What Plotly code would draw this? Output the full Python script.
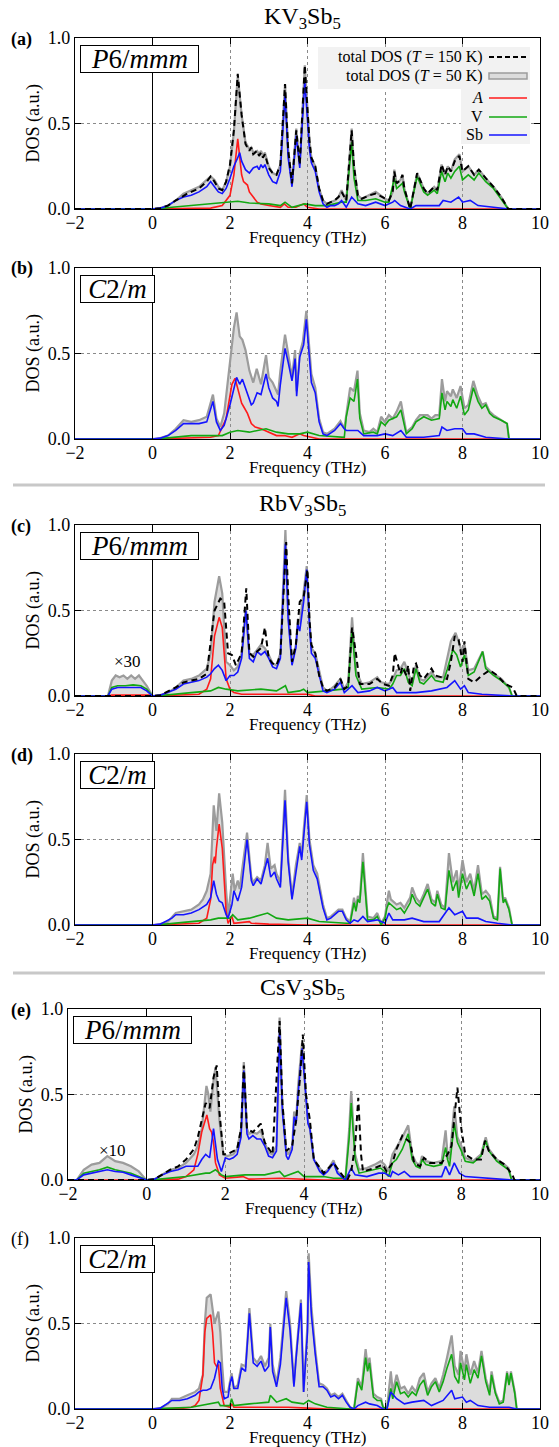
import plotly.graph_objects as go

# ---------------- data (frequency THz, DOS a.u.) ----------------
# Panel (a) KV3Sb5, P6/mmm
a_tot150 = [(-2,0),(0,0),(0.2,0.005),(0.4,0.02),(0.6,0.05),(0.8,0.08),(0.9,0.09),(1.0,0.10),(1.2,0.12),(1.4,0.16),(1.5,0.19),(1.6,0.16),(1.7,0.12),(1.8,0.11),(1.9,0.16),(2.0,0.26),(2.1,0.46),(2.2,0.79),(2.3,0.55),(2.4,0.38),(2.5,0.34),(2.55,0.36),(2.6,0.32),(2.7,0.34),(2.75,0.31),(2.8,0.33),(2.85,0.30),(2.9,0.32),(3.0,0.24),(3.1,0.21),(3.2,0.20),(3.3,0.26),(3.42,0.73),(3.5,0.35),(3.6,0.15),(3.71,0.46),(3.8,0.26),(3.93,0.84),(4.05,0.40),(4.1,0.30),(4.2,0.25),(4.3,0.12),(4.4,0.05),(4.5,0.03),(4.6,0.04),(4.7,0.05),(4.8,0.07),(4.88,0.10),(5.0,0.05),(5.14,0.46),(5.2,0.25),(5.3,0.08),(5.4,0.06),(5.6,0.08),(5.76,0.09),(6.0,0.06),(6.1,0.05),(6.2,0.10),(6.24,0.22),(6.3,0.15),(6.4,0.17),(6.45,0.20),(6.5,0.12),(6.65,0.0),(6.83,0.21),(7.0,0.12),(7.1,0.09),(7.27,0.13),(7.35,0.11),(7.46,0.26),(7.55,0.20),(7.62,0.25),(7.7,0.22),(7.8,0.28),(7.92,0.31),(8.0,0.22),(8.15,0.25),(8.3,0.20),(8.42,0.23),(8.6,0.18),(8.8,0.13),(9.0,0.07),(9.18,0.0),(10,0)]
a_tot50 = [(-2,0),(0,0),(0.2,0.005),(0.4,0.02),(0.6,0.05),(0.8,0.09),(0.9,0.10),(1.0,0.11),(1.2,0.13),(1.4,0.17),(1.5,0.19),(1.6,0.17),(1.7,0.13),(1.8,0.11),(1.9,0.16),(2.0,0.25),(2.1,0.45),(2.2,0.78),(2.3,0.55),(2.4,0.39),(2.5,0.35),(2.55,0.36),(2.6,0.33),(2.7,0.34),(2.75,0.32),(2.8,0.34),(2.85,0.31),(2.9,0.33),(3.0,0.25),(3.1,0.21),(3.2,0.20),(3.3,0.26),(3.42,0.73),(3.5,0.35),(3.6,0.15),(3.71,0.47),(3.8,0.26),(3.93,0.84),(4.05,0.40),(4.1,0.30),(4.2,0.25),(4.3,0.12),(4.4,0.05),(4.5,0.03),(4.6,0.04),(4.7,0.05),(4.8,0.07),(4.88,0.11),(5.0,0.05),(5.14,0.47),(5.2,0.25),(5.3,0.08),(5.4,0.06),(5.6,0.08),(5.76,0.10),(6.0,0.06),(6.1,0.05),(6.2,0.10),(6.24,0.23),(6.3,0.15),(6.4,0.17),(6.45,0.20),(6.5,0.12),(6.65,0.0),(6.83,0.21),(7.0,0.12),(7.1,0.09),(7.27,0.13),(7.35,0.11),(7.46,0.26),(7.55,0.20),(7.62,0.25),(7.7,0.22),(7.8,0.29),(7.92,0.32),(8.0,0.22),(8.15,0.25),(8.3,0.20),(8.42,0.23),(8.6,0.18),(8.8,0.13),(9.0,0.07),(9.18,0.0),(10,0)]
a_A = [(-2,0),(0,0),(1.5,0.005),(1.8,0.02),(2.0,0.08),(2.1,0.20),(2.2,0.41),(2.3,0.20),(2.35,0.16),(2.45,0.14),(2.5,0.10),(2.6,0.07),(2.7,0.04),(2.8,0.03),(3.0,0.02),(3.3,0.01),(3.4,0.03),(3.5,0.01),(3.7,0.01),(3.9,0.03),(4.0,0.01),(4.3,0.0),(10,0)]
a_V = [(-2,0),(0,0),(0.2,0.002),(0.5,0.01),(1.0,0.02),(1.5,0.03),(2.0,0.04),(2.2,0.045),(2.5,0.035),(3.0,0.03),(3.3,0.02),(3.42,0.04),(3.6,0.01),(3.93,0.03),(4.2,0.02),(4.5,0.02),(4.88,0.04),(5.0,0.04),(5.14,0.39),(5.2,0.18),(5.3,0.05),(5.5,0.05),(5.76,0.06),(6.0,0.04),(6.1,0.04),(6.24,0.18),(6.3,0.12),(6.45,0.15),(6.5,0.10),(6.65,0.0),(6.83,0.19),(7.0,0.10),(7.1,0.08),(7.27,0.11),(7.35,0.09),(7.46,0.22),(7.55,0.16),(7.62,0.21),(7.7,0.18),(7.8,0.22),(7.92,0.25),(8.0,0.17),(8.15,0.20),(8.3,0.17),(8.42,0.21),(8.6,0.16),(8.8,0.12),(9.0,0.06),(9.18,0.0),(10,0)]
a_Sb = [(-2,0),(0,0),(0.2,0.005),(0.4,0.02),(0.6,0.05),(0.8,0.07),(1.0,0.08),(1.2,0.10),(1.4,0.13),(1.5,0.16),(1.6,0.13),(1.7,0.10),(1.8,0.09),(1.9,0.12),(2.0,0.18),(2.1,0.25),(2.2,0.30),(2.25,0.33),(2.3,0.28),(2.4,0.23),(2.5,0.21),(2.6,0.24),(2.7,0.25),(2.75,0.23),(2.8,0.26),(2.85,0.24),(2.9,0.26),(3.0,0.20),(3.1,0.16),(3.2,0.15),(3.3,0.22),(3.42,0.67),(3.5,0.30),(3.6,0.13),(3.71,0.43),(3.8,0.24),(3.93,0.75),(4.05,0.35),(4.1,0.27),(4.2,0.22),(4.3,0.10),(4.4,0.03),(4.5,0.01),(4.6,0.02),(4.7,0.02),(4.8,0.03),(4.88,0.05),(5.0,0.01),(5.14,0.07),(5.3,0.03),(5.5,0.02),(5.76,0.04),(6.0,0.02),(6.2,0.04),(6.25,0.05),(6.4,0.02),(6.65,0.0),(6.8,0.02),(7.0,0.02),(7.4,0.02),(7.5,0.05),(7.7,0.04),(7.9,0.07),(8.0,0.04),(8.2,0.05),(8.4,0.02),(8.8,0.01),(9.2,0.0),(10,0)]

# Panel (b) KV3Sb5, C2/m
b_tot50 = [(-2,0),(0,0),(0.2,0.005),(0.4,0.02),(0.6,0.06),(0.8,0.11),(1.0,0.10),(1.2,0.11),(1.4,0.13),(1.56,0.26),(1.65,0.12),(1.75,0.07),(1.85,0.15),(2.0,0.45),(2.1,0.65),(2.17,0.74),(2.25,0.60),(2.32,0.58),(2.4,0.52),(2.5,0.40),(2.6,0.33),(2.69,0.41),(2.8,0.32),(2.93,0.49),(3.0,0.36),(3.1,0.33),(3.24,0.26),(3.3,0.40),(3.42,0.61),(3.5,0.50),(3.6,0.36),(3.68,0.52),(3.72,0.28),(3.8,0.50),(3.88,0.57),(3.97,0.75),(4.05,0.50),(4.1,0.38),(4.2,0.30),(4.3,0.12),(4.4,0.04),(4.5,0.03),(4.7,0.06),(4.85,0.105),(4.95,0.06),(5.0,0.15),(5.1,0.30),(5.2,0.28),(5.29,0.40),(5.35,0.15),(5.45,0.05),(5.6,0.04),(5.7,0.06),(5.8,0.04),(5.9,0.13),(6.0,0.10),(6.1,0.14),(6.2,0.12),(6.3,0.16),(6.41,0.22),(6.5,0.10),(6.55,0.04),(6.7,0.07),(6.8,0.11),(6.9,0.14),(7.0,0.14),(7.1,0.14),(7.2,0.12),(7.3,0.14),(7.4,0.14),(7.47,0.35),(7.55,0.22),(7.6,0.28),(7.7,0.25),(7.75,0.29),(7.85,0.24),(7.95,0.31),(8.05,0.18),(8.15,0.20),(8.28,0.34),(8.4,0.25),(8.5,0.20),(8.6,0.21),(8.7,0.16),(8.8,0.14),(9.0,0.11),(9.15,0.09),(9.2,0.0),(10,0)]
b_A = [(-2,0),(0,0),(1.5,0.01),(1.7,0.02),(1.9,0.12),(2.05,0.32),(2.13,0.355),(2.2,0.30),(2.3,0.21),(2.35,0.19),(2.45,0.15),(2.55,0.09),(2.65,0.07),(2.8,0.06),(2.9,0.05),(3.0,0.04),(3.2,0.02),(3.4,0.02),(3.6,0.01),(3.8,0.03),(3.9,0.02),(4.1,0.01),(4.3,0.0),(10,0)]
b_V = [(-2,0),(0,0),(0.2,0.002),(1.0,0.02),(1.5,0.02),(1.8,0.02),(2.0,0.04),(2.2,0.05),(2.5,0.04),(2.93,0.06),(3.2,0.04),(3.5,0.03),(3.8,0.03),(4.0,0.04),(4.3,0.02),(4.8,0.01),(4.95,0.01),(5.0,0.13),(5.1,0.24),(5.2,0.22),(5.29,0.35),(5.35,0.12),(5.45,0.03),(5.7,0.04),(5.8,0.03),(5.9,0.10),(6.0,0.08),(6.1,0.11),(6.3,0.13),(6.41,0.17),(6.5,0.08),(6.55,0.03),(6.7,0.06),(6.8,0.10),(7.0,0.13),(7.2,0.11),(7.4,0.12),(7.47,0.27),(7.55,0.17),(7.6,0.22),(7.7,0.19),(7.75,0.23),(7.85,0.18),(7.95,0.25),(8.05,0.14),(8.15,0.17),(8.28,0.30),(8.4,0.22),(8.5,0.18),(8.6,0.20),(8.7,0.15),(8.8,0.13),(9.0,0.11),(9.15,0.09),(9.2,0.0),(10,0)]
b_Sb = [(-2,0),(0,0),(0.2,0.005),(0.4,0.02),(0.6,0.05),(0.8,0.09),(1.0,0.09),(1.2,0.09),(1.4,0.10),(1.56,0.22),(1.65,0.10),(1.75,0.05),(1.85,0.08),(2.0,0.20),(2.17,0.36),(2.25,0.32),(2.32,0.35),(2.45,0.26),(2.55,0.20),(2.6,0.21),(2.7,0.27),(2.8,0.26),(2.93,0.38),(3.0,0.30),(3.1,0.24),(3.2,0.22),(3.24,0.19),(3.3,0.32),(3.42,0.53),(3.5,0.45),(3.6,0.34),(3.68,0.47),(3.72,0.25),(3.8,0.48),(3.9,0.55),(3.97,0.70),(4.05,0.45),(4.1,0.33),(4.2,0.27),(4.3,0.10),(4.4,0.03),(4.5,0.02),(4.7,0.05),(4.85,0.09),(4.95,0.06),(5.0,0.05),(5.3,0.05),(5.45,0.02),(5.8,0.02),(6.0,0.03),(6.2,0.02),(6.41,0.05),(6.55,0.01),(7.0,0.01),(7.4,0.02),(7.47,0.07),(7.6,0.05),(7.8,0.06),(8.0,0.06),(8.1,0.03),(8.3,0.03),(8.6,0.01),(9.2,0.0),(10,0)]

# Panel (c) RbV3Sb5, P6/mmm (negative part scaled x30)
c_tot150 = [(-2,0),(0,0),(0.2,0.005),(0.6,0.05),(0.8,0.08),(1.0,0.09),(1.2,0.10),(1.4,0.13),(1.5,0.30),(1.6,0.50),(1.75,0.57),(1.85,0.55),(1.95,0.25),(2.05,0.24),(2.15,0.18),(2.3,0.25),(2.42,0.63),(2.5,0.25),(2.6,0.23),(2.7,0.26),(2.8,0.28),(2.9,0.40),(3.0,0.22),(3.1,0.19),(3.2,0.18),(3.3,0.24),(3.45,0.90),(3.5,0.60),(3.6,0.20),(3.7,0.30),(3.8,0.55),(3.9,0.58),(4.0,0.74),(4.05,0.45),(4.1,0.30),(4.2,0.25),(4.3,0.12),(4.4,0.05),(4.5,0.03),(4.7,0.05),(4.85,0.10),(4.95,0.04),(5.05,0.06),(5.15,0.40),(5.25,0.25),(5.35,0.07),(5.6,0.07),(5.8,0.10),(5.95,0.07),(6.1,0.06),(6.2,0.12),(6.25,0.25),(6.4,0.13),(6.45,0.17),(6.55,0.12),(6.6,0.18),(6.65,0.03),(6.75,0.18),(6.8,0.19),(6.9,0.12),(7.0,0.10),(7.2,0.16),(7.3,0.12),(7.6,0.10),(7.7,0.20),(7.8,0.35),(7.9,0.33),(8.0,0.20),(8.05,0.32),(8.15,0.10),(8.3,0.08),(8.5,0.12),(8.7,0.15),(8.9,0.12),(9.1,0.07),(9.3,0.05),(9.4,0.0),(10,0)]
c_tot50 = [(-2,0),(-1.15,0),(-1.05,0.09),(-0.95,0.12),(-0.85,0.11),(-0.75,0.12),(-0.65,0.10),(-0.55,0.12),(-0.45,0.10),(-0.35,0.12),(-0.25,0.09),(-0.15,0.06),(-0.05,0.02),(0,0),(0.2,0.005),(0.4,0.02),(0.6,0.05),(0.8,0.09),(1.0,0.10),(1.2,0.12),(1.4,0.16),(1.5,0.25),(1.6,0.55),(1.72,0.70),(1.8,0.60),(1.9,0.20),(2.0,0.18),(2.1,0.15),(2.2,0.17),(2.3,0.25),(2.41,0.52),(2.5,0.25),(2.6,0.24),(2.7,0.27),(2.8,0.30),(2.9,0.28),(3.0,0.24),(3.1,0.19),(3.2,0.18),(3.3,0.25),(3.43,0.97),(3.5,0.50),(3.6,0.20),(3.7,0.30),(3.75,0.45),(3.8,0.42),(3.9,0.60),(3.98,0.76),(4.05,0.45),(4.1,0.28),(4.2,0.25),(4.3,0.15),(4.4,0.05),(4.5,0.03),(4.6,0.04),(4.7,0.06),(4.85,0.10),(4.95,0.04),(5.05,0.08),(5.15,0.46),(5.25,0.15),(5.4,0.07),(5.6,0.08),(5.8,0.11),(5.9,0.08),(6.1,0.07),(6.2,0.10),(6.3,0.15),(6.4,0.16),(6.5,0.20),(6.6,0.13),(6.7,0.08),(6.8,0.18),(6.9,0.10),(7.0,0.09),(7.2,0.14),(7.3,0.11),(7.5,0.11),(7.6,0.22),(7.7,0.32),(7.82,0.37),(7.9,0.31),(8.0,0.25),(8.05,0.30),(8.15,0.15),(8.3,0.16),(8.52,0.26),(8.6,0.17),(8.8,0.13),(9.0,0.10),(9.2,0.05),(9.28,0.0),(10,0)]
c_A = [(-2,0),(-1.15,0),(-1.05,0.005),(-0.1,0.005),(0,0),(1.2,0.01),(1.4,0.04),(1.5,0.10),(1.6,0.35),(1.72,0.46),(1.8,0.40),(1.85,0.25),(1.9,0.10),(2.0,0.04),(2.1,0.02),(2.3,0.01),(3.43,0.01),(4.0,0.01),(4.2,0.0),(10,0)]
c_V = [(-2,0),(-1.15,0),(-1.05,0.05),(-0.9,0.06),(-0.7,0.06),(-0.5,0.065),(-0.3,0.06),(-0.15,0.04),(0,0),(0.2,0.002),(1.0,0.02),(1.5,0.03),(1.7,0.05),(1.9,0.04),(2.2,0.03),(2.8,0.04),(3.2,0.03),(3.43,0.06),(3.5,0.02),(3.8,0.03),(3.9,0.04),(4.0,0.02),(4.5,0.03),(4.9,0.04),(5.05,0.05),(5.15,0.38),(5.25,0.12),(5.4,0.04),(5.8,0.05),(6.1,0.04),(6.2,0.07),(6.3,0.12),(6.4,0.12),(6.5,0.16),(6.6,0.08),(6.7,0.06),(6.8,0.16),(6.9,0.08),(7.0,0.07),(7.2,0.12),(7.3,0.09),(7.5,0.08),(7.6,0.15),(7.75,0.27),(7.85,0.24),(7.95,0.17),(8.05,0.24),(8.15,0.12),(8.3,0.14),(8.52,0.26),(8.6,0.16),(8.8,0.12),(9.0,0.09),(9.2,0.05),(9.28,0.0),(10,0)]
c_Sb = [(-2,0),(-1.15,0),(-1.05,0.04),(-0.9,0.05),(-0.7,0.05),(-0.5,0.05),(-0.3,0.05),(-0.15,0.03),(0,0),(0.2,0.005),(0.6,0.04),(0.8,0.07),(1.0,0.08),(1.2,0.09),(1.4,0.11),(1.5,0.13),(1.6,0.16),(1.7,0.18),(1.8,0.15),(1.9,0.09),(2.0,0.12),(2.1,0.12),(2.2,0.14),(2.3,0.22),(2.41,0.50),(2.5,0.22),(2.6,0.20),(2.7,0.26),(2.8,0.24),(2.9,0.26),(3.0,0.22),(3.1,0.17),(3.2,0.16),(3.3,0.22),(3.43,0.89),(3.5,0.45),(3.6,0.18),(3.7,0.28),(3.75,0.42),(3.8,0.38),(3.9,0.55),(3.98,0.74),(4.05,0.42),(4.1,0.25),(4.2,0.22),(4.3,0.12),(4.4,0.03),(4.5,0.02),(4.7,0.04),(4.85,0.08),(4.95,0.02),(5.15,0.06),(5.3,0.02),(5.6,0.03),(5.8,0.05),(6.0,0.03),(6.2,0.05),(6.3,0.02),(6.8,0.02),(7.2,0.03),(7.6,0.05),(7.8,0.09),(7.95,0.04),(8.05,0.06),(8.15,0.02),(8.5,0.01),(9.0,0.005),(9.3,0.0),(10,0)]

# Panel (d) RbV3Sb5, C2/m
d_tot50 = [(-2,0),(0,0),(0.2,0.005),(0.4,0.02),(0.6,0.07),(0.8,0.08),(1.0,0.09),(1.2,0.12),(1.3,0.15),(1.4,0.20),(1.5,0.30),(1.58,0.70),(1.65,0.55),(1.72,0.77),(1.8,0.60),(1.9,0.20),(1.95,0.05),(2.07,0.30),(2.12,0.20),(2.2,0.26),(2.25,0.21),(2.3,0.30),(2.38,0.45),(2.44,0.54),(2.55,0.28),(2.6,0.25),(2.7,0.28),(2.8,0.26),(2.9,0.35),(2.97,0.48),(3.05,0.33),(3.15,0.35),(3.2,0.30),(3.3,0.25),(3.42,0.79),(3.5,0.40),(3.6,0.17),(3.7,0.35),(3.8,0.48),(3.85,0.40),(3.9,0.55),(3.98,0.76),(4.05,0.50),(4.15,0.35),(4.25,0.30),(4.4,0.12),(4.5,0.04),(4.6,0.05),(4.8,0.09),(4.9,0.09),(5.0,0.04),(5.1,0.02),(5.2,0.16),(5.25,0.10),(5.3,0.17),(5.35,0.15),(5.43,0.42),(5.55,0.05),(5.7,0.04),(5.8,0.07),(5.9,0.01),(6.0,0.05),(6.05,0.13),(6.1,0.20),(6.15,0.15),(6.3,0.12),(6.4,0.13),(6.5,0.10),(6.65,0.16),(6.7,0.22),(6.8,0.16),(6.9,0.13),(7.0,0.18),(7.1,0.24),(7.2,0.15),(7.3,0.13),(7.35,0.20),(7.45,0.12),(7.55,0.10),(7.65,0.42),(7.75,0.25),(7.85,0.32),(7.9,0.20),(8.0,0.38),(8.1,0.25),(8.2,0.30),(8.3,0.20),(8.4,0.35),(8.5,0.18),(8.6,0.20),(8.7,0.17),(8.8,0.05),(8.9,0.04),(8.97,0.34),(9.05,0.14),(9.1,0.16),(9.2,0.10),(9.28,0.0),(10,0)]
d_A = [(-2,0),(0,0),(1.2,0.01),(1.4,0.04),(1.5,0.15),(1.55,0.35),(1.6,0.40),(1.62,0.36),(1.65,0.45),(1.72,0.59),(1.8,0.45),(1.85,0.25),(1.9,0.08),(1.95,0.01),(2.05,0.05),(2.1,0.01),(2.5,0.02),(2.55,0.01),(3.0,0.005),(4.0,0.0),(10,0)]
d_V = [(-2,0),(0,0),(0.2,0.002),(1.0,0.02),(1.5,0.03),(1.7,0.04),(2.0,0.04),(2.07,0.06),(2.2,0.03),(2.5,0.04),(2.97,0.07),(3.2,0.04),(3.5,0.03),(4.0,0.04),(4.3,0.02),(5.0,0.01),(5.1,0.01),(5.2,0.13),(5.25,0.08),(5.3,0.15),(5.35,0.13),(5.43,0.37),(5.55,0.03),(5.7,0.03),(5.8,0.05),(5.9,0.0),(6.0,0.04),(6.05,0.10),(6.1,0.13),(6.15,0.12),(6.3,0.09),(6.4,0.10),(6.5,0.07),(6.65,0.13),(6.7,0.18),(6.8,0.13),(6.9,0.11),(7.0,0.16),(7.1,0.21),(7.2,0.13),(7.3,0.11),(7.35,0.18),(7.45,0.10),(7.55,0.09),(7.65,0.32),(7.75,0.20),(7.85,0.26),(7.9,0.16),(8.0,0.30),(8.1,0.21),(8.2,0.26),(8.3,0.17),(8.4,0.30),(8.5,0.15),(8.6,0.17),(8.7,0.14),(8.8,0.04),(8.9,0.03),(8.97,0.33),(9.05,0.13),(9.1,0.15),(9.2,0.09),(9.28,0.0),(10,0)]
d_Sb = [(-2,0),(0,0),(0.2,0.005),(0.5,0.04),(0.6,0.06),(0.8,0.06),(1.0,0.07),(1.2,0.09),(1.4,0.12),(1.5,0.16),(1.58,0.26),(1.65,0.18),(1.72,0.14),(1.8,0.13),(1.9,0.06),(1.95,0.04),(2.05,0.12),(2.1,0.20),(2.2,0.14),(2.3,0.22),(2.44,0.50),(2.55,0.26),(2.6,0.23),(2.7,0.27),(2.8,0.24),(2.97,0.39),(3.05,0.28),(3.15,0.31),(3.2,0.27),(3.3,0.22),(3.42,0.73),(3.5,0.37),(3.6,0.15),(3.7,0.32),(3.8,0.46),(3.85,0.38),(3.9,0.52),(3.98,0.72),(4.05,0.47),(4.15,0.32),(4.25,0.27),(4.4,0.10),(4.5,0.03),(4.6,0.04),(4.8,0.08),(4.9,0.08),(5.0,0.03),(5.1,0.01),(5.2,0.03),(5.3,0.02),(5.43,0.05),(5.55,0.02),(5.8,0.03),(6.0,0.01),(6.1,0.07),(6.2,0.03),(6.5,0.03),(6.7,0.04),(7.0,0.02),(7.4,0.02),(7.65,0.10),(7.8,0.06),(8.0,0.08),(8.1,0.04),(8.4,0.04),(8.6,0.02),(8.9,0.01),(9.28,0.0),(10,0)]

# Panel (e) CsV3Sb5, P6/mmm (negative part scaled x10)
e_tot150 = [(-2,0),(0,0),(0.2,0.005),(0.4,0.03),(0.6,0.06),(0.8,0.08),(1.0,0.12),(1.2,0.18),(1.3,0.25),(1.4,0.35),(1.5,0.45),(1.6,0.42),(1.7,0.60),(1.78,0.67),(1.85,0.40),(1.95,0.15),(2.05,0.15),(2.3,0.18),(2.4,0.30),(2.47,0.67),(2.55,0.30),(2.7,0.28),(2.9,0.33),(3.0,0.22),(3.2,0.15),(3.38,0.93),(3.45,0.45),(3.55,0.17),(3.7,0.20),(3.8,0.35),(3.9,0.60),(3.97,0.85),(4.05,0.50),(4.15,0.35),(4.25,0.12),(4.5,0.04),(4.75,0.10),(5.0,0.02),(5.1,0.0),(5.2,0.05),(5.3,0.20),(5.38,0.48),(5.45,0.15),(5.5,0.05),(5.8,0.07),(6.0,0.09),(6.1,0.05),(6.25,0.10),(6.35,0.18),(6.5,0.26),(6.6,0.24),(6.7,0.22),(6.8,0.10),(6.95,0.08),(7.05,0.13),(7.2,0.10),(7.5,0.10),(7.65,0.15),(7.75,0.20),(7.9,0.54),(8.0,0.30),(8.1,0.15),(8.3,0.12),(8.5,0.12),(8.6,0.23),(8.7,0.17),(8.9,0.12),(9.1,0.09),(9.3,0.03),(9.35,0.0),(10,0)]
e_tot50 = [(-2,0),(-1.78,0),(-1.6,0.06),(-1.4,0.09),(-1.2,0.10),(-1.0,0.14),(-0.8,0.11),(-0.6,0.10),(-0.4,0.08),(-0.2,0.05),(-0.05,0.01),(0,0),(0.2,0.005),(0.4,0.03),(0.6,0.06),(0.8,0.07),(1.0,0.10),(1.2,0.15),(1.3,0.20),(1.4,0.30),(1.52,0.55),(1.57,0.50),(1.62,0.40),(1.7,0.58),(1.75,0.66),(1.85,0.35),(1.95,0.15),(2.05,0.14),(2.2,0.15),(2.3,0.18),(2.4,0.30),(2.47,0.69),(2.55,0.30),(2.6,0.27),(2.7,0.28),(2.8,0.27),(2.9,0.29),(3.0,0.22),(3.1,0.16),(3.2,0.15),(3.3,0.20),(3.38,0.95),(3.45,0.45),(3.55,0.17),(3.6,0.15),(3.7,0.20),(3.75,0.40),(3.8,0.35),(3.85,0.55),(3.95,0.80),(4.05,0.50),(4.1,0.35),(4.15,0.30),(4.25,0.12),(4.4,0.07),(4.5,0.04),(4.6,0.06),(4.75,0.115),(4.85,0.05),(5.0,0.02),(5.05,0.0),(5.15,0.30),(5.2,0.52),(5.3,0.15),(5.4,0.06),(5.6,0.07),(5.8,0.09),(5.95,0.11),(6.05,0.09),(6.15,0.05),(6.25,0.15),(6.35,0.19),(6.5,0.25),(6.65,0.32),(6.75,0.15),(6.85,0.10),(6.95,0.09),(7.0,0.14),(7.1,0.11),(7.3,0.10),(7.5,0.11),(7.6,0.29),(7.65,0.15),(7.7,0.12),(7.82,0.43),(7.9,0.25),(8.0,0.20),(8.1,0.13),(8.3,0.11),(8.5,0.15),(8.62,0.25),(8.7,0.18),(8.9,0.12),(9.1,0.09),(9.2,0.07),(9.28,0.0),(10,0)]
e_A = [(-2,0),(-1.78,0),(-1.6,0.003),(-0.1,0.003),(0,0),(0.8,0.005),(1.0,0.02),(1.2,0.06),(1.3,0.15),(1.4,0.28),(1.53,0.38),(1.6,0.30),(1.65,0.28),(1.7,0.22),(1.75,0.10),(1.85,0.03),(2.0,0.01),(2.45,0.02),(2.6,0.005),(3.38,0.01),(4.0,0.005),(4.5,0.0),(10,0)]
e_V = [(-2,0),(-1.78,0),(-1.6,0.04),(-1.4,0.05),(-1.2,0.06),(-1.0,0.075),(-0.8,0.06),(-0.6,0.05),(-0.4,0.04),(-0.2,0.02),(0,0),(0.2,0.002),(1.0,0.02),(1.5,0.04),(1.6,0.04),(1.75,0.06),(1.9,0.03),(2.0,0.02),(2.5,0.03),(3.0,0.03),(3.38,0.05),(3.5,0.02),(3.85,0.05),(4.0,0.02),(4.5,0.02),(4.75,0.01),(5.0,0.01),(5.05,0.0),(5.15,0.25),(5.2,0.45),(5.3,0.12),(5.4,0.04),(5.6,0.05),(5.8,0.06),(5.95,0.07),(6.05,0.05),(6.15,0.02),(6.25,0.10),(6.35,0.12),(6.5,0.18),(6.65,0.27),(6.75,0.12),(6.85,0.08),(6.95,0.07),(7.0,0.12),(7.1,0.09),(7.3,0.08),(7.5,0.09),(7.6,0.19),(7.65,0.12),(7.7,0.08),(7.82,0.33),(7.9,0.22),(8.0,0.17),(8.1,0.11),(8.3,0.10),(8.5,0.14),(8.62,0.23),(8.7,0.17),(8.9,0.11),(9.1,0.08),(9.2,0.06),(9.28,0.0),(10,0)]
e_Sb = [(-2,0),(-1.78,0),(-1.6,0.03),(-1.4,0.04),(-1.2,0.05),(-1.0,0.06),(-0.8,0.05),(-0.6,0.045),(-0.4,0.03),(-0.2,0.015),(0,0),(0.2,0.005),(0.4,0.03),(0.6,0.05),(0.8,0.06),(1.0,0.08),(1.2,0.08),(1.3,0.08),(1.4,0.12),(1.5,0.15),(1.6,0.13),(1.7,0.30),(1.8,0.12),(1.9,0.05),(2.0,0.13),(2.1,0.12),(2.2,0.13),(2.3,0.15),(2.4,0.25),(2.47,0.64),(2.55,0.27),(2.6,0.24),(2.7,0.26),(2.8,0.24),(2.9,0.24),(3.0,0.20),(3.1,0.14),(3.2,0.13),(3.3,0.17),(3.38,0.87),(3.45,0.40),(3.55,0.14),(3.6,0.12),(3.7,0.18),(3.75,0.37),(3.8,0.33),(3.85,0.50),(3.95,0.77),(4.05,0.48),(4.1,0.33),(4.15,0.30),(4.25,0.12),(4.4,0.05),(4.5,0.03),(4.6,0.05),(4.75,0.10),(4.85,0.04),(5.0,0.01),(5.05,0.0),(5.2,0.07),(5.3,0.03),(5.6,0.02),(5.9,0.04),(6.05,0.04),(6.2,0.02),(6.25,0.05),(6.4,0.03),(6.55,0.05),(6.7,0.02),(7.0,0.02),(7.5,0.02),(7.6,0.08),(7.7,0.03),(7.82,0.10),(7.95,0.04),(8.1,0.02),(8.6,0.01),(9.28,0.0),(10,0)]

# Panel (f) CsV3Sb5, C2/m
f_tot50 = [(-2,0),(0,0),(0.2,0.005),(0.4,0.03),(0.5,0.06),(0.7,0.06),(0.9,0.08),(1.1,0.10),(1.2,0.12),(1.3,0.20),(1.35,0.50),(1.4,0.65),(1.5,0.67),(1.6,0.50),(1.7,0.57),(1.75,0.45),(1.8,0.25),(1.85,0.10),(1.95,0.10),(2.04,0.21),(2.1,0.12),(2.2,0.14),(2.3,0.26),(2.4,0.25),(2.45,0.40),(2.5,0.59),(2.6,0.30),(2.7,0.27),(2.8,0.31),(2.9,0.25),(3.0,0.30),(3.04,0.50),(3.1,0.26),(3.2,0.15),(3.3,0.30),(3.4,0.55),(3.45,0.69),(3.55,0.50),(3.65,0.15),(3.7,0.30),(3.83,0.64),(3.9,0.10),(4.0,0.50),(4.03,0.91),(4.1,0.60),(4.2,0.35),(4.3,0.15),(4.4,0.14),(4.5,0.12),(4.6,0.08),(4.7,0.09),(4.8,0.07),(4.9,0.09),(5.0,0.05),(5.1,0.01),(5.2,0.0),(5.3,0.18),(5.4,0.13),(5.5,0.35),(5.55,0.25),(5.6,0.30),(5.7,0.09),(5.8,0.07),(5.9,0.06),(5.95,0.01),(6.05,0.0),(6.15,0.22),(6.2,0.10),(6.3,0.20),(6.4,0.12),(6.5,0.13),(6.6,0.09),(6.7,0.13),(6.8,0.10),(6.9,0.18),(7.0,0.21),(7.1,0.10),(7.2,0.15),(7.3,0.18),(7.4,0.12),(7.5,0.20),(7.6,0.30),(7.72,0.43),(7.8,0.25),(7.9,0.20),(7.95,0.34),(8.05,0.22),(8.1,0.32),(8.2,0.20),(8.3,0.28),(8.4,0.21),(8.49,0.34),(8.6,0.18),(8.7,0.10),(8.75,0.22),(8.85,0.10),(8.95,0.04),(9.05,0.05),(9.15,0.22),(9.2,0.15),(9.25,0.22),(9.35,0.10),(9.4,0.0),(10,0)]
f_A = [(-2,0),(0,0),(0.8,0.005),(1.0,0.01),(1.1,0.02),(1.2,0.05),(1.3,0.20),(1.35,0.45),(1.4,0.53),(1.5,0.55),(1.55,0.45),(1.6,0.27),(1.65,0.25),(1.7,0.26),(1.75,0.12),(1.85,0.02),(2.0,0.01),(2.05,0.03),(2.1,0.01),(3.0,0.01),(3.5,0.01),(4.0,0.005),(4.5,0.0),(10,0)]
f_V = [(-2,0),(0,0),(0.2,0.002),(1.0,0.01),(1.5,0.03),(1.7,0.04),(1.75,0.02),(2.0,0.02),(2.04,0.06),(2.1,0.02),(2.5,0.03),(3.0,0.04),(3.04,0.08),(3.2,0.04),(3.45,0.06),(3.6,0.04),(3.9,0.03),(4.03,0.05),(4.2,0.03),(4.5,0.01),(5.1,0.0),(5.2,0.0),(5.3,0.16),(5.4,0.11),(5.5,0.30),(5.55,0.22),(5.6,0.27),(5.7,0.07),(5.8,0.05),(5.9,0.05),(5.95,0.01),(6.05,0.0),(6.15,0.12),(6.2,0.06),(6.3,0.16),(6.4,0.09),(6.5,0.10),(6.6,0.07),(6.7,0.10),(6.8,0.08),(6.9,0.14),(7.0,0.17),(7.1,0.08),(7.2,0.13),(7.3,0.16),(7.4,0.10),(7.5,0.16),(7.6,0.24),(7.72,0.32),(7.8,0.19),(7.9,0.15),(7.95,0.27),(8.05,0.17),(8.1,0.26),(8.2,0.15),(8.3,0.23),(8.4,0.18),(8.49,0.31),(8.6,0.16),(8.7,0.08),(8.75,0.20),(8.85,0.09),(8.95,0.03),(9.05,0.04),(9.15,0.21),(9.2,0.14),(9.25,0.21),(9.35,0.09),(9.4,0.0),(10,0)]
f_Sb = [(-2,0),(0,0),(0.2,0.005),(0.5,0.05),(0.7,0.05),(0.9,0.06),(1.1,0.08),(1.2,0.10),(1.3,0.11),(1.4,0.11),(1.5,0.12),(1.6,0.18),(1.7,0.28),(1.75,0.27),(1.8,0.12),(1.85,0.06),(1.95,0.07),(2.0,0.15),(2.05,0.19),(2.1,0.12),(2.2,0.12),(2.3,0.24),(2.4,0.22),(2.45,0.38),(2.5,0.56),(2.6,0.27),(2.7,0.25),(2.8,0.28),(2.9,0.22),(3.0,0.25),(3.04,0.48),(3.1,0.22),(3.2,0.13),(3.3,0.26),(3.4,0.50),(3.45,0.65),(3.55,0.46),(3.65,0.13),(3.7,0.28),(3.83,0.62),(3.9,0.10),(4.0,0.45),(4.03,0.86),(4.1,0.55),(4.2,0.32),(4.3,0.13),(4.4,0.13),(4.5,0.11),(4.6,0.07),(4.7,0.08),(4.8,0.06),(4.9,0.08),(5.0,0.04),(5.1,0.01),(5.2,0.0),(5.3,0.02),(5.5,0.04),(5.6,0.03),(5.8,0.02),(5.95,0.0),(6.05,0.0),(6.15,0.10),(6.3,0.06),(6.5,0.03),(6.7,0.04),(7.0,0.05),(7.2,0.02),(7.5,0.05),(7.72,0.11),(7.8,0.06),(8.0,0.07),(8.1,0.04),(8.2,0.05),(8.4,0.02),(8.7,0.01),(9.2,0.01),(9.4,0.0),(10,0)]

x_ticks = [-2, 0, 2, 4, 6, 8, 10]
y_ticks = [0.0, 0.5, 1.0]
y_ticktext = ["0.0", "0.5", "1.0"]
panel_labels = ["(a)", "(b)", "(c)", "(d)", "(e)", "(f)"]
space_groups = ["<i>P</i>6/<i>mmm</i>", "<i>C</i>2/<i>m</i>"] * 3
compounds = ["KV<sub>3</sub>Sb<sub>5</sub>", "RbV<sub>3</sub>Sb<sub>5</sub>", "CsV<sub>3</sub>Sb<sub>5</sub>"]
legend_labels = ["total DOS (<i>T</i> = 150 K)", "total DOS (<i>T</i> = 50 K)", "<i>A</i>", "V", "Sb"]

panels = [
    dict(tot50=a_tot50, tot150=a_tot150, A=a_A, V=a_V, Sb=a_Sb),
    dict(tot50=b_tot50, tot150=None, A=b_A, V=b_V, Sb=b_Sb),
    dict(tot50=c_tot50, tot150=c_tot150, A=c_A, V=c_V, Sb=c_Sb),
    dict(tot50=d_tot50, tot150=None, A=d_A, V=d_V, Sb=d_Sb),
    dict(tot50=e_tot50, tot150=e_tot150, A=e_A, V=e_V, Sb=e_Sb),
    dict(tot50=f_tot50, tot150=None, A=f_A, V=f_V, Sb=f_Sb),
]

# ---------------- layout geometry (pixels) ----------------
W, H = 559, 1447
FONT = "Liberation Serif, DejaVu Serif, serif"
P_TOP = [38, 268, 525, 754, 1009, 1238]
P_H = 171
P_LEFT = [75, 75, 75, 75, 68, 75]
P_RIGHT = 540
COL = {"A": "#ff1a1a", "V": "#12a812", "Sb": "#1414ff"}


def px(xp):
    return xp / W


def py(yp):
    return 1 - yp / H


fig = go.Figure()
layout = dict(width=W, height=H, margin=dict(l=0, r=0, t=0, b=0), autosize=False,
              paper_bgcolor="white", plot_bgcolor="white", showlegend=False,
              font=dict(family=FONT, size=17, color="black"))
annotations = []
shapes = []

for i, p in enumerate(panels):
    n = i + 1
    sx = "" if n == 1 else str(n)
    xa, ya = "x" + sx, "y" + sx
    fx, fv = zip(*p["tot50"])
    fig.add_trace(go.Scatter(x=fx, y=fv, xaxis=xa, yaxis=ya, mode="lines", fill="tozeroy",
                             fillcolor="rgba(150,150,150,0.33)",
                             line=dict(color="#9c9c9c", width=2.2), hoverinfo="skip"))
    for key in ["A", "V", "Sb"]:
        sxs, svs = zip(*p[key])
        fig.add_trace(go.Scatter(x=sxs, y=svs, xaxis=xa, yaxis=ya, mode="lines",
                                 line=dict(color=COL[key], width=1.6), hoverinfo="skip"))
    if p["tot150"]:
        tx, tv = zip(*p["tot150"])
        fig.add_trace(go.Scatter(x=tx, y=tv, xaxis=xa, yaxis=ya, mode="lines",
                                 line=dict(color="black", width=2, dash="6px,4px"), hoverinfo="skip"))

    top, bot = P_TOP[i], P_TOP[i] + P_H
    left = P_LEFT[i]
    common = dict(showline=True, linecolor="black", linewidth=1.2, mirror="ticks",
                  ticks="inside", ticklen=6, tickwidth=1, tickcolor="black",
                  showgrid=True, gridcolor="#8a8a8a", griddash="dot", gridwidth=1,
                  tickfont=dict(family=FONT, size=18), automargin=False, fixedrange=True)
    layout["xaxis" + sx] = dict(common, domain=[px(left), px(P_RIGHT)], anchor=ya,
                                range=[-2, 10], tickvals=x_ticks, ticklabelstandoff=-3,
                                zeroline=True, zerolinecolor="black", zerolinewidth=1)
    layout["yaxis" + sx] = dict(common, domain=[py(bot), py(top)], anchor=xa,
                                range=[0, 1], tickvals=y_ticks, ticktext=y_ticktext,
                                zeroline=False)
    # axis titles
    annotations.append(dict(text="Frequency (THz)", xref="paper", yref="paper",
                            x=px((left + P_RIGHT) / 2), y=py(bot + 28), showarrow=False,
                            font=dict(size=17), xanchor="center", yanchor="middle"))
    annotations.append(dict(text="DOS (a.u.)", xref="paper", yref="paper", textangle=-90,
                            x=px(left - 42), y=py((top + bot) / 2), showarrow=False,
                            font=dict(size=18), xanchor="center", yanchor="middle"))
    # panel labels
    lab = panel_labels[i]
    annotations.append(dict(text=("<b>%s</b>" % lab) if n != 6 else lab, xref="paper", yref="paper",
                            x=px(9), y=py(top + 1), showarrow=False, font=dict(size=18),
                            xanchor="left", yanchor="middle"))
    # space group box
    sg_w = 117 if i % 2 == 0 else 73
    annotations.append(dict(text=space_groups[i], xref="paper", yref="paper",
                            x=px(left + 5), y=py(top + 7), xanchor="left", yanchor="top",
                            showarrow=False, font=dict(size=27), bgcolor="white",
                            bordercolor="black", borderwidth=1, borderpad=0,
                            width=sg_w, height=26))

# compound titles
for j, ttl in enumerate(compounds):
    annotations.append(dict(text=ttl, xref="paper", yref="paper", x=px(302),
                            y=py(P_TOP[2 * j] - 20), showarrow=False, font=dict(size=24),
                            xanchor="center", yanchor="middle"))

# scaling notes for the unstable region
annotations.append(dict(text="\u00d730", xref="x3", yref="y3", x=-0.65, y=0.2,
                        showarrow=False, font=dict(size=17, color="black")))
annotations.append(dict(text="\u00d710", xref="x5", yref="y5", x=-0.86, y=0.17,
                        showarrow=False, font=dict(size=17, color="black")))

# separators between compounds
for yl in [485, 973]:
    shapes.append(dict(type="line", xref="paper", yref="paper", x0=px(13), x1=px(545),
                       y0=py(yl), y1=py(yl), line=dict(color="#c8c8c8", width=3)))

# legend of panel (a)
shapes.append(dict(type="rect", xref="paper", yref="paper", x0=px(318), x1=px(530),
                   y0=py(89), y1=py(47), fillcolor="#f2f2f2", line=dict(width=0), layer="above"))
shapes.append(dict(type="rect", xref="paper", yref="paper", x0=px(461), x1=px(530),
                   y0=py(144), y1=py(89), fillcolor="#f2f2f2", line=dict(width=0), layer="above"))
leg_y = [57, 76, 98, 117, 135]
for k, (txt, yy) in enumerate(zip(legend_labels, leg_y)):
    annotations.append(dict(text=txt, xref="paper", yref="paper", x=px(485), y=py(yy),
                            xanchor="right", yanchor="middle", showarrow=False,
                            font=dict(size=16)))
shapes.append(dict(type="line", xref="paper", yref="paper", x0=px(489), x1=px(527),
                   y0=py(57), y1=py(57), line=dict(color="black", width=2, dash="5px,3px"), layer="above"))
shapes.append(dict(type="rect", xref="paper", yref="paper", x0=px(489), x1=px(527),
                   y0=py(79), y1=py(73), fillcolor="#dcdcdc", line=dict(color="#9c9c9c", width=1.5), layer="above"))
for key, yy in zip(["A", "V", "Sb"], leg_y[2:]):
    shapes.append(dict(type="line", xref="paper", yref="paper", x0=px(489), x1=px(527),
                       y0=py(yy), y1=py(yy), line=dict(color=COL[key], width=1.6), layer="above"))

layout["annotations"] = annotations
layout["shapes"] = shapes
fig.update_layout(**layout)
fig.write_html("out.html")
